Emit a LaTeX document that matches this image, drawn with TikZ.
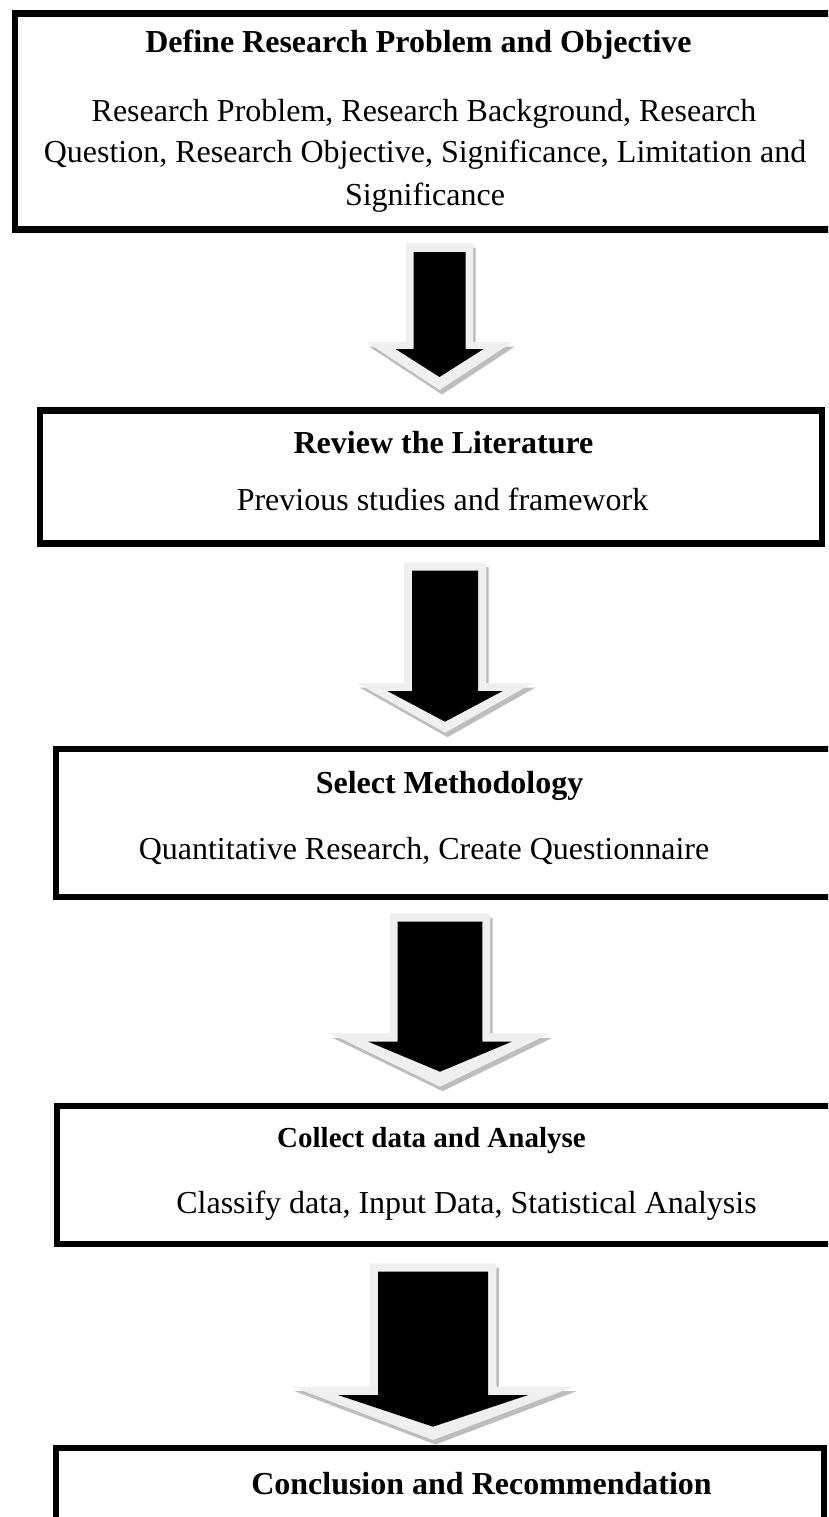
\documentclass[tikz,border=0pt]{standalone}
\usepackage{fontspec}
\setmainfont{Liberation Serif}

\definecolor{rimgray}{HTML}{EFEFEF}
\definecolor{shadegray}{HTML}{BDBDBD}

% block arrow: #1 style, #2 centre x, #3 top, #4 shaft half width,
% #5 head base, #6 head half width, #7 tip
\newcommand\arrowpoly[7]{%
  \fill[#1] ({#2-#4},#3) -- ({#2+#4},#3) -- ({#2+#4},#5) -- ({#2+#6},#5)
    -- (#2,#7) -- ({#2-#6},#5) -- ({#2-#4},#5) -- cycle;}

\begin{document}
\begin{tikzpicture}[x=1pt,y=-1pt,
  stagebox/.style={draw=black,line width=6.5pt,fill=none,inner sep=0pt,
    rectangle},
  headtext/.style={font=\fontsize{32}{38}\selectfont\bfseries,inner sep=0pt,
    anchor=base},
  bodytext/.style={font=\fontsize{32}{38}\selectfont,inner sep=0pt,
    anchor=base},
  arrowshade/.style={fill=shadegray,shift={(2.5,4.5)}},
  arrowrim/.style={fill=rimgray},
  arrowcore/.style={fill=black}]

\useasboundingbox (0,0) rectangle (828,1517);
\clip (0,0) rectangle (828,1517);

% stage boxes
\node[stagebox,minimum width=835pt,minimum height=216pt] (box1) at (432.5,121.5) {};
\node[stagebox,minimum width=782pt,minimum height=133pt] (box2) at (431,477) {};
\node[stagebox,minimum width=794pt,minimum height=148pt] (box3) at (453,823) {};
\node[stagebox,minimum width=793pt,minimum height=138pt] (box4) at (453.5,1175) {};
\node[stagebox,minimum width=768pt,minimum height=92pt] (box5) at (440,1494) {};

% box texts
\node[headtext] (t1) at (418.5,53) {Define Research Problem and Objective};
\node[bodytext] (t1a) at (424,122) {Research Problem, Research Background, Research};
\node[bodytext] (t1b) at (425,163) {Question, Research Objective, Significance, Limitation and};
\node[bodytext] (t1c) at (425,205) {Significance};

\node[headtext] (t2) at (443.5,453) {Review the Literature};
\node[bodytext] (t2a) at (442.5,510) {Previous studies and framework};

\node[headtext] (t3) at (449.5,793) {Select Methodology};
\node[bodytext] (t3a) at (424,859) {Quantitative Research, Create Questionnaire};

\node[headtext,font=\fontsize{29}{35}\selectfont\bfseries] (t4) at (431.5,1147) {Collect data and Analyse};
\node[bodytext] (t4a) at (466.5,1213) {Classify data, Input Data, Statistical Analysis};

\node[headtext] (t5) at (481.5,1494) {Conclusion and Recommendation};

% block arrows between the stages
\arrowpoly{arrowshade}{439.5}{243}{33.5}{342}{73}{390}
\arrowpoly{arrowrim}{439.5}{243}{33.5}{342}{73}{390}
\arrowpoly{arrowcore}{439.5}{252}{26}{349}{44}{377}

\arrowpoly{arrowshade}{445}{562.7}{41}{683}{88}{732.7}
\arrowpoly{arrowrim}{445}{562.7}{41}{683}{88}{732.7}
\arrowpoly{arrowcore}{445}{570.7}{33}{691}{57.7}{721.7}

\arrowpoly{arrowshade}{440}{913.3}{50}{1033.3}{110}{1086.7}
\arrowpoly{arrowrim}{440}{913.3}{50}{1033.3}{110}{1086.7}
\arrowpoly{arrowcore}{440}{921.7}{42.3}{1041.7}{71.7}{1071.7}

\arrowpoly{arrowshade}{433}{1263.3}{63.4}{1386.7}{141}{1440}
\arrowpoly{arrowrim}{433}{1263.3}{63.4}{1386.7}{141}{1440}
\arrowpoly{arrowcore}{433}{1271.7}{55}{1395}{95}{1426.7}

\end{tikzpicture}
\end{document}
